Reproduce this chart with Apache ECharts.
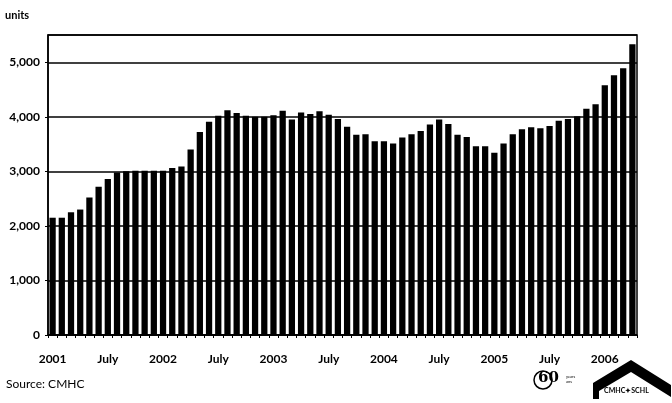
<!DOCTYPE html>
<html>
<head>
<meta charset="utf-8">
<script src="https://cdn.jsdelivr.net/npm/echarts@6/dist/echarts.min.js"></script>
<style>
  html, body { margin: 0; padding: 0; background: #fff; }
  #chart { width: 672px; height: 403px; }
</style>
</head>
<body>
<div id="chart"></div>
<script>
// Monthly categories, January 2001 to April 2006
const categories = [
  '2001-01','2001-02','2001-03','2001-04','2001-05','2001-06','2001-07','2001-08','2001-09','2001-10','2001-11','2001-12',
  '2002-01','2002-02','2002-03','2002-04','2002-05','2002-06','2002-07','2002-08','2002-09','2002-10','2002-11','2002-12',
  '2003-01','2003-02','2003-03','2003-04','2003-05','2003-06','2003-07','2003-08','2003-09','2003-10','2003-11','2003-12',
  '2004-01','2004-02','2004-03','2004-04','2004-05','2004-06','2004-07','2004-08','2004-09','2004-10','2004-11','2004-12',
  '2005-01','2005-02','2005-03','2005-04','2005-05','2005-06','2005-07','2005-08','2005-09','2005-10','2005-11','2005-12',
  '2006-01','2006-02','2006-03','2006-04'
];

// Units per month
const units = [
  2150, 2150, 2250, 2300, 2520, 2720, 2860, 2980, 3000, 3010, 3010, 3010,
  3010, 3060, 3090, 3400, 3720, 3910, 4020, 4120, 4070, 4020, 4000, 4000,
  4030, 4110, 3950, 4080, 4050, 4100, 4040, 3960, 3820, 3670, 3680, 3550,
  3550, 3510, 3620, 3680, 3740, 3860, 3950, 3870, 3670, 3630, 3460, 3460,
  3340, 3510, 3680, 3770, 3810, 3790, 3830, 3930, 3960, 4010, 4150, 4230,
  4580, 4760, 4890, 5330
];

// Labels shown under the x axis
const xTickLabels = {
  '2001-01': '2001', '2001-07': 'July',
  '2002-01': '2002', '2002-07': 'July',
  '2003-01': '2003', '2003-07': 'July',
  '2004-01': '2004', '2004-07': 'July',
  '2005-01': '2005', '2005-07': 'July',
  '2006-01': '2006'
};

// Y axis tick values
const yTicks = [0, 1000, 2000, 3000, 4000, 5000];

const FONT = 'Lato';

const chart = echarts.init(document.getElementById('chart'), null, { renderer: 'canvas' });

chart.setOption({
  backgroundColor: '#ffffff',
  animation: false,
  grid: {
    left: 48, right: 35, top: 35, bottom: 68,
    show: true, borderColor: '#000', borderWidth: 1.5, backgroundColor: 'transparent'
  },
  xAxis: {
    type: 'category',
    data: categories,
    boundaryGap: true,
    axisLine: { show: true, lineStyle: { color: '#000', width: 1.5 } },
    axisTick: { show: true, interval: 0, length: 3, lineStyle: { color: '#000', width: 1 } },
    axisLabel: {
      interval: 0,
      margin: 18,
      color: '#000',
      fontFamily: FONT,
      fontWeight: 'bold',
      fontSize: 12,
      formatter: (v) => xTickLabels[v] || ''
    },
    splitLine: { show: false }
  },
  yAxis: {
    type: 'value',
    min: 0,
    max: 5500,
    interval: 1000,
    axisLine: { show: true, lineStyle: { color: '#000', width: 1.5 } },
    axisTick: { show: true, length: 3, lineStyle: { color: '#000', width: 1 } },
    axisLabel: {
      margin: 8,
      color: '#000',
      fontFamily: FONT,
      fontWeight: 'bold',
      fontSize: 12,
      showMaxLabel: false,
      formatter: (v) => yTicks.includes(v) ? v.toLocaleString('en-US') : ''
    },
    splitLine: { show: true, lineStyle: { color: '#000', width: 1.5 } }
  },
  series: [{
    type: 'bar',
    data: units,
    barCategoryGap: '32%',
    itemStyle: { color: '#000' },
    silent: true
  }],
  graphic: [
    {
      type: 'text', left: 5, top: 10,
      style: { text: 'units', fill: '#000', font: 'bold 11px ' + FONT }
    },
    {
      type: 'text', left: 6, top: 378,
      style: { text: 'Source: CMHC', fill: '#000', font: '12px ' + FONT }
    },
    // 60th anniversary mark
    {
      type: 'circle', shape: { cx: 543, cy: 380, r: 9 },
      style: { fill: 'none', stroke: '#000', lineWidth: 1.5 }
    },
    {
      type: 'text', left: 538, top: 371,
      style: { text: '60', fill: '#000', font: 'bold 15px "DejaVu Serif"' }
    },
    {
      type: 'text', left: 566, top: 374,
      style: { text: 'years\nans', fill: '#000', font: '4px ' + FONT, lineHeight: 5 }
    },
    // CMHC / SCHL house mark
    {
      type: 'polygon',
      shape: { points: [[593, 399], [593, 383], [631, 360], [671, 385], [671, 397], [631, 372], [599, 391], [599, 399]] },
      style: { fill: '#000' }
    },
    {
      type: 'text', left: 604, top: 387,
      style: { text: 'CMHC✦SCHL', fill: '#000', font: 'bold 7px ' + FONT }
    }
  ]
});
</script>
</body>
</html>
